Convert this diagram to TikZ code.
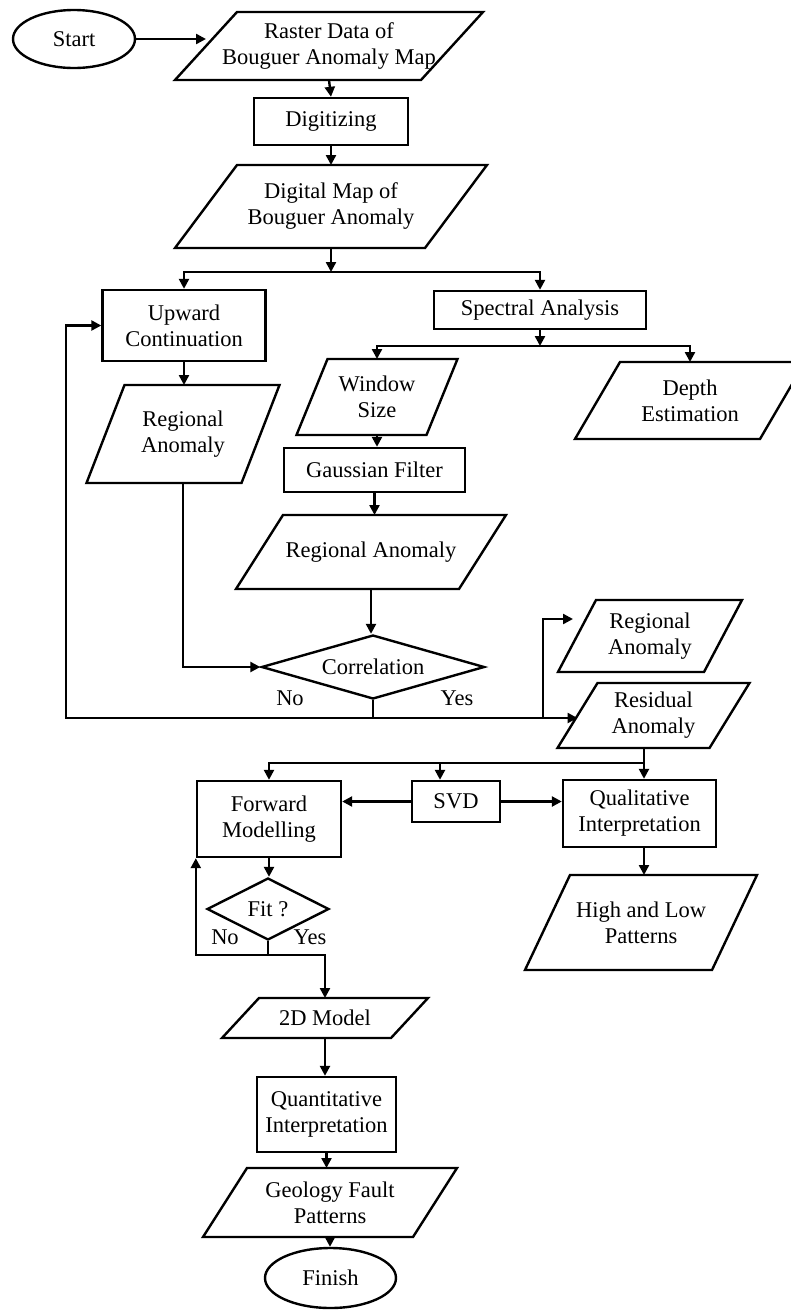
\documentclass[tikz,border=0pt]{standalone}
\usepackage{fontspec}
\setmainfont{Liberation Serif}
\usetikzlibrary{arrows.meta,shapes.geometric,calc}
\newcommand\pgn[7]{%
  \node[minimum width=#4pt, minimum height=#5pt, outer sep=0pt] (#1) at (#2,#3) {#7};
  \draw[line join=miter] ([xshift=-#6pt]#1.south west) -- ([xshift=-#6pt]#1.south east) -- ([xshift=#6pt]#1.north east) -- ([xshift=#6pt]#1.north west) -- cycle;
}
\begin{document}
\begin{tikzpicture}[x=1pt,y=-1pt,
  line width=2.4pt,
  every node/.style={font=\fontsize{22.5}{26}\selectfont, align=center, inner sep=0pt},
  box/.style={draw, rectangle},
  arr/.style={-{Triangle[length=10pt,width=10pt]}},
  dia/.style={draw, diamond, shape aspect=3},
  oval/.style={draw, ellipse}
]
\useasboundingbox (0,0) rectangle (791,1310);
% nodes
\node[oval, minimum width=122pt, minimum height=58pt] (start) at (74,39) {Start};
\pgn{raster}{329}{46}{246}{68}{31}{Raster Data of\\Bouguer Anomaly Map}
\node[box, minimum width=154pt, minimum height=47pt] (digit) at (331,121.5) {Digitizing};
\pgn{digmap}{331}{206.5}{250}{83}{31}{Digital Map of\\Bouguer Anomaly}
\node[box, minimum width=163pt, minimum height=71pt] (upward) at (184,325.5) {Upward\\Continuation};
\node[box, minimum width=212pt, minimum height=38pt] (spectral) at (540,310) {Spectral Analysis};
\pgn{window}{377}{397}{130}{76}{15.5}{Window\\Size}
\pgn{depth}{690}{400.5}{185}{77}{22.5}{Depth\\Estimation}
\pgn{reg1}{183}{434}{155}{98}{19}{Regional\\Anomaly}
\node[box, minimum width=181pt, minimum height=44pt] (gauss) at (374.5,470) {Gaussian Filter};
\pgn{reg2}{371}{552}{223}{74}{23.5}{Regional Anomaly}
\node[dia, minimum width=223pt, minimum height=64pt] (corr) at (373,667) {Correlation};
\pgn{reg3}{650}{636}{146}{72}{19}{Regional\\Anomaly}
\pgn{resid}{653.5}{715.5}{152}{65}{20}{Residual\\Anomaly}
\node[box, minimum width=144pt, minimum height=76pt] (forward) at (269,819) {Forward\\Modelling};
\node[box, minimum width=88pt, minimum height=41pt] (svd) at (456,801.5) {SVD};
\node[box, minimum width=153pt, minimum height=67pt] (qual) at (639.5,813.5) {Qualitative\\Interpretation};
\pgn{hilo}{641}{922.5}{187}{95}{22.5}{High and Low\\Patterns}
\node[dia, minimum width=122pt, minimum height=62pt] (fit) at (268,909) {Fit ?};
\pgn{model}{325}{1018}{169}{40}{18.5}{2D Model}
\node[box, minimum width=139pt, minimum height=75pt] (quant) at (326.5,1114.5) {Quantitative\\Interpretation};
\pgn{geo}{330}{1202.5}{210}{69}{22}{Geology Fault\\Patterns}
\node[oval, minimum width=131pt, minimum height=60pt] (finish) at (330.5,1278) {Finish};
% labels
\node (no1) at (290,698) {No};
\node (yes1) at (457,698) {Yes};
\node (no2) at (225,937) {No};
\node (yes2) at (310,937) {Yes};
% junctions
\coordinate (j1) at (331,272);
\coordinate (j2) at (540,346);
\coordinate (j3) at (373,718);
\coordinate (cl) at (66,718);
\coordinate (j4) at (543,718);
\coordinate (j5) at (644,763);
\coordinate (j6) at (268,955);
\coordinate (fl) at (forward.south west |- j6);
% connectors
\draw[arr] (start.east) -- (start.east -| raster.west);
\draw[arr] (raster.south) -- (digit.north);
\draw[arr] (digit.south) -- (digit.south |- digmap.north);
\draw[arr] (digmap.south) -- (j1);
\draw[arr] (j1) -| (upward.north);
\draw[arr] (j1) -| (spectral.north);
\draw[arr] (spectral.south) -- (j2);
\draw[arr] (j2) -| (window.north);
\draw[arr] (j2) -| (depth.north);
\draw[arr] (upward.south) -- (upward.south |- reg1.north);
\draw[arr] (window.south) -- (window.south |- gauss.north);
\draw[arr] (gauss.south) -- (gauss.south |- reg2.north);
\draw[arr] (reg1.south) |- (corr.west);
\draw[arr] (reg2.south) -- (reg2.south |- corr.north);
\draw (corr.south) -- (j3);
\draw[arr] (j3) -- (cl) |- (upward.west);
\draw[arr] (j3) -- (j3 -| resid.west);
\draw[arr] (j4) |- ([xshift=-4pt,yshift=17pt]reg3.west);
\draw[arr] (j5 |- resid.south) -- (j5 |- qual.north);
\draw[arr] (j5) -| (forward.north);
\draw[arr] (j5) -| ([xshift=-16pt]svd.north);
\draw[arr] (svd.west) -- (svd.west -| forward.east);
\draw[arr] (svd.east) -- (svd.east -| qual.west);
\draw[arr] (j5 |- qual.south) -- (j5 |- hilo.north);
\draw[arr] (forward.south) -- (forward.south |- fit.north);
\draw (fit.south) -- (j6);
\draw[arr] (j6) -- (fl) -- (forward.south west);
\draw[arr] (j6) -| (model.north);
\draw[arr] (model.south) -- (model.south |- quant.north);
\draw[arr] (quant.south) -- (quant.south |- geo.north);
\draw[arr] (geo.south) -- (geo.south |- finish.north);
\end{tikzpicture}
\end{document}
